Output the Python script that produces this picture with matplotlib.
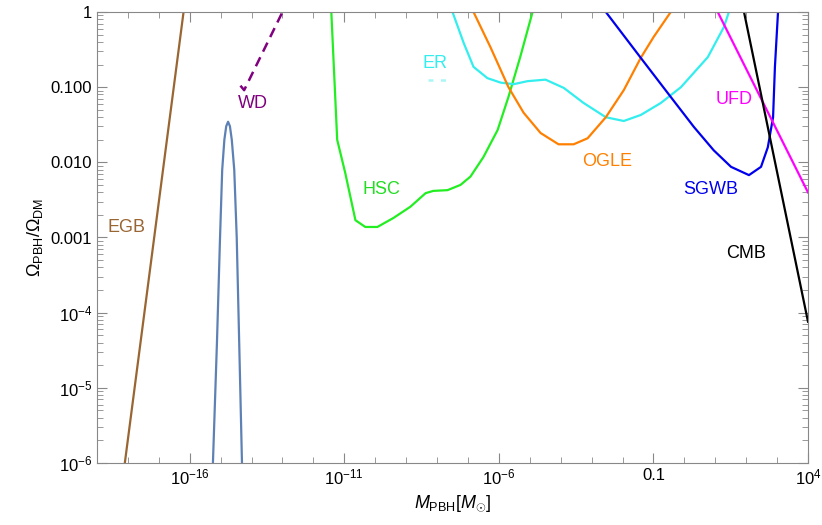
import numpy as np
import matplotlib.pyplot as plt
from matplotlib.ticker import FixedLocator, LogLocator, NullFormatter

plt.rcParams['font.family'] = 'Liberation Sans'
plt.rcParams['mathtext.fontset'] = 'custom'
plt.rcParams['mathtext.rm'] = 'Liberation Sans'
plt.rcParams['mathtext.it'] = 'Liberation Sans:italic'

# values, as log10(M) and log10(Omega)
egb_x = [-18.1, -16.2]
egb_y = [-6.0, 0.0]

peak_x = [-15.25, -15.12, -15.02, -14.95, -14.88, -14.82, -14.76, -14.70, -14.64, -14.56, -14.48, -14.40, -14.31]
peak_y = [-6.0, -4.4, -3.0, -2.1, -1.7, -1.52, -1.46, -1.52, -1.7, -2.1, -3.0, -4.4, -6.0]

wd_x = [-14.36, -14.24, -13.0]
wd_y = [-0.98, -1.04, 0.0]

hsc_x = [-11.42, -11.23, -10.97, -10.64, -10.32, -9.93, -9.41, -8.86, -8.37, -8.12, -7.66,
         -7.24, -6.92, -6.50, -6.04, -5.69, -5.31, -4.91]
hsc_y = [0.0, -1.70, -2.14, -2.77, -2.86, -2.86, -2.74, -2.59, -2.41, -2.38, -2.37,
         -2.30, -2.19, -1.93, -1.57, -1.13, -0.60, 0.0]

er_x = [-7.50, -7.14, -6.82, -6.37, -5.94, -5.52, -5.07, -4.49, -3.90, -3.26, -2.54, -1.96,
        -1.41, -0.76, -0.11, 0.76, 1.28, 1.44]
er_y = [0.0, -0.41, -0.73, -0.88, -0.94, -0.96, -0.92, -0.90, -1.01, -1.21, -1.40, -1.45,
        -1.37, -1.21, -1.00, -0.60, -0.20, 0.0]
er_dash_x = [-8.3, -7.6]
er_dash_y = [-0.9, -0.9]

ogle_x = [-6.82, -6.27, -5.69, -5.20, -4.65, -4.07, -3.58, -3.13, -2.54, -1.96, -1.41, -0.99, -0.44]
ogle_y = [0.0, -0.47, -1.00, -1.34, -1.61, -1.76, -1.76, -1.68, -1.40, -1.04, -0.61, -0.33, 0.0]

sgwb_x = [-2.54, -1.41, -0.44, 0.31, 0.95, 1.51, 2.09, 2.48, 2.70, 2.87, 2.93, 3.03]
sgwb_y = [0.0, -0.61, -1.13, -1.53, -1.84, -2.06, -2.17, -2.06, -1.80, -1.40, -0.73, 0.0]

ufd_x = [1.08, 4.0]
ufd_y = [0.0, -2.40]

cmb_x = [1.93, 4.0]
cmb_y = [0.0, -4.12]

curves = [
    (egb_x, egb_y, '#996633', '-'),
    (peak_x, peak_y, '#5E81B5', '-'),
    (wd_x, wd_y, '#800080', (0, (4, 2.5))),
    (hsc_x, hsc_y, '#22EE22', '-'),
    (er_x, er_y, '#33EEEE', '-'),
    (er_dash_x, er_dash_y, '#AAF6F6', (0, (2, 3))),
    (ogle_x, ogle_y, '#FF8000', '-'),
    (sgwb_x, sgwb_y, '#0000EE', '-'),
    (ufd_x, ufd_y, '#FF00FF', '-'),
    (cmb_x, cmb_y, '#000000', '-'),
]

labels = [
    ('EGB', 126, 228, '#996633'), ('WD', 253, 103, '#800080'),
    ('HSC', 381, 189, '#22DD22'), ('ER', 435, 63, '#33EEEE'),
    ('OGLE', 607, 162, '#FF8000'), ('UFD', 734, 100, '#FF00FF'),
    ('SGWB', 711, 190, '#0000EE'), ('CMB', 746, 253, '#000000'),
]

fig = plt.figure(figsize=(8.22, 5.25), dpi=100)
ax = fig.add_axes([97 / 822, 1 - 463 / 525, 711 / 822, 451 / 525])

for xs, ys, c, ls in curves:
    ax.plot(10 ** np.array(xs), 10 ** np.array(ys), color=c, ls=ls, lw=1.8 if ls != '-' else 1.6)

ax.set_xscale('log')
ax.set_yscale('log')
ax.set_xlim(1e-19, 1e4)
ax.set_ylim(1e-6, 1)

ax.xaxis.set_major_locator(FixedLocator([1e-16, 1e-11, 1e-6, 0.1, 1e4]))
ax.set_xticklabels([r'$10^{-16}$', r'$10^{-11}$', r'$10^{-6}$', '0.1', r'$10^{4}$'])
ax.xaxis.set_minor_locator(LogLocator(base=10, subs=[1.0], numticks=40))
ax.xaxis.set_minor_formatter(NullFormatter())
ax.yaxis.set_major_locator(FixedLocator([1e-6, 1e-5, 1e-4, 1e-3, 1e-2, 1e-1, 1]))
ax.set_yticklabels([r'$10^{-6}$', r'$10^{-5}$', r'$10^{-4}$', '0.001', '0.010', '0.100', '1'])
ax.yaxis.set_minor_locator(LogLocator(base=10, subs=np.arange(2, 10), numticks=20))
ax.yaxis.set_minor_formatter(NullFormatter())

ax.tick_params(which='both', direction='in', top=True, right=True, color='#888888')
ax.tick_params(which='major', length=7, labelsize=12)
ax.tick_params(which='minor', length=4)
for s in ax.spines.values():
    s.set_color('#888888')

for txt, px, py, c in labels:
    ax.text((px - 97) / 711, 1 - (py - 12) / 451, txt, color=c, fontsize=13,
            ha='center', va='center', transform=ax.transAxes)

ax.set_xlabel(r'$M_{\mathrm{PBH}}[M_{\odot}]$', fontsize=13)
ax.set_ylabel(r'$\Omega_{\mathrm{PBH}}/\Omega_{\mathrm{DM}}$', fontsize=13)

fig.savefig('out.png', dpi=100)
